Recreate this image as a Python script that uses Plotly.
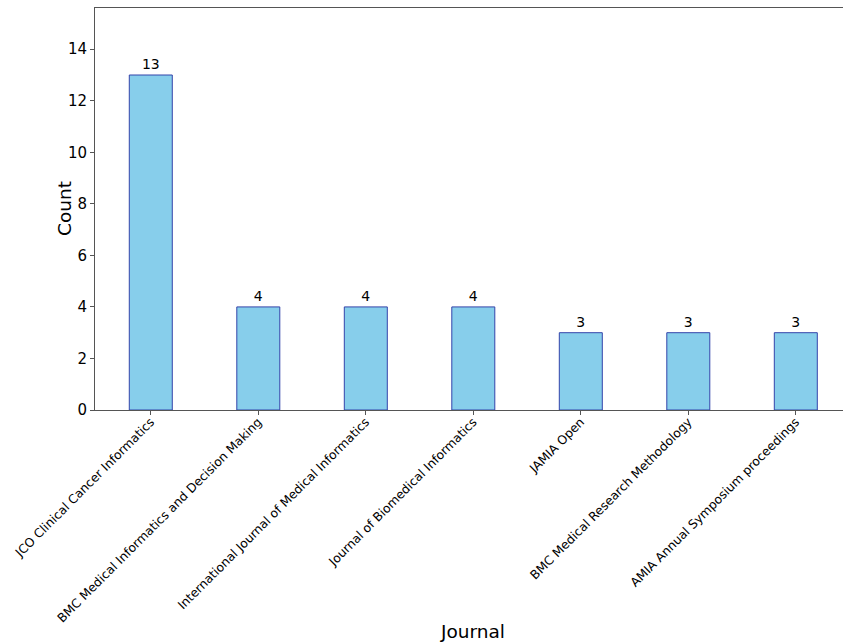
import plotly.graph_objects as go

journals = [
    "JCO Clinical Cancer Informatics",
    "BMC Medical Informatics and Decision Making",
    "International Journal of Medical Informatics",
    "Journal of Biomedical Informatics",
    "JAMIA Open",
    "BMC Medical Research Methodology",
    "AMIA Annual Symposium proceedings",
]
counts = [13, 4, 4, 4, 3, 3, 3]
y_ticks = [0, 2, 4, 6, 8, 10, 12, 14]

FONT = "DejaVu Sans"
AXIS_COLOR = "#555555"

fig = go.Figure()
fig.add_trace(go.Bar(
    x=list(range(len(journals))),
    y=counts,
    width=0.4,
    marker=dict(color="#87CEEB", line=dict(color="#3344aa", width=1)),
    text=[str(c) for c in counts],
    textposition="outside",
    textfont=dict(family=FONT, size=14, color="black"),
    cliponaxis=False,
))

fig.update_layout(
    width=843, height=644,
    margin=dict(l=95, r=0, t=8, b=234),
    plot_bgcolor="white", paper_bgcolor="white",
    font=dict(family=FONT, color="black"),
    showlegend=False,
    xaxis=dict(
        range=[-0.519, 6.439],
        tickmode="array",
        tickvals=list(range(len(journals))),
        ticktext=journals,
        tickangle=-45,
        tickfont=dict(family=FONT, size=12.3, color="black"),
        ticklabelstandoff=-5,
        showline=True, linecolor=AXIS_COLOR, linewidth=1, mirror=True,
        ticks="outside", ticklen=4, tickcolor=AXIS_COLOR,
        showgrid=False, zeroline=False,
    ),
    yaxis=dict(
        range=[0, 15.6],
        tickmode="array",
        tickvals=y_ticks,
        tickfont=dict(family=FONT, size=15, color="black"),
        showline=True, linecolor=AXIS_COLOR, linewidth=1,
        ticks="outside", ticklen=4, tickcolor=AXIS_COLOR,
        showgrid=False, zeroline=False,
    ),
    annotations=[
        dict(text="Journal", xref="paper", yref="paper", x=0.505, y=-0.55,
             xanchor="center", yanchor="middle", showarrow=False,
             font=dict(family=FONT, size=18.5, color="black")),
        dict(text="Count", xref="paper", yref="paper", x=-0.0414, y=0.5,
             xanchor="center", yanchor="middle", showarrow=False, textangle=-90,
             font=dict(family=FONT, size=18.5, color="black")),
    ],
)

fig.write_html(
    "out.html",
    config={"displayModeBar": False},
    post_script="document.body.style.margin='0';document.body.style.overflow='hidden';",
)
